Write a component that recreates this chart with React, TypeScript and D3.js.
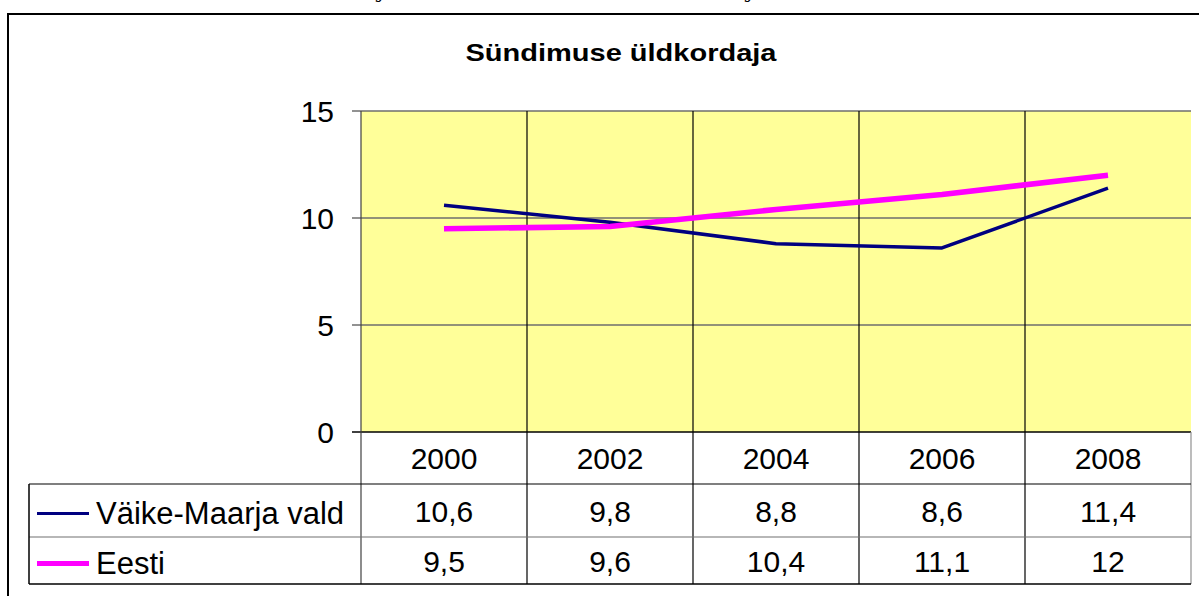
import React from "react";
import * as d3 from "d3";

const years = ["2000", "2002", "2004", "2006", "2008"];
const vaikeMaarja = [10.6, 9.8, 8.8, 8.6, 11.4];
const eesti = [9.5, 9.6, 10.4, 11.1, 12];
const yTicks = [0, 5, 10, 15];
const seriesNames = ["Väike-Maarja vald", "Eesti"];
const title = "Sündimuse üldkordaja";

const W = 1199;
const H = 596;
const FONT = "'Liberation Sans', Arial, Helvetica, sans-serif";

export default function App() {
  const plotLeft = 361;
  const plotRight = 1191;
  const plotTop = 111;
  const plotBottom = 432;
  const rowLines = [432, 484, 537, 584];
  const tableLeft = 29;

  const x = d3.scaleBand<string>().domain(years).range([plotLeft, plotRight]).padding(0);
  const y = d3.scaleLinear().domain([0, 15]).range([plotBottom, plotTop]);
  const cx = (yr: string) => (x(yr) as number) + x.bandwidth() / 2;

  const line = d3
    .line<number>()
    .x((_, i) => cx(years[i]))
    .y((d) => y(d));

  const fmt = (v: number) => String(v).replace(".", ",");
  const series = [
    { name: seriesNames[0], values: vaikeMaarja, color: "#000080", width: 3.5, keyWidth: 3 },
    { name: seriesNames[1], values: eesti, color: "#FF00FF", width: 5.5, keyWidth: 5 },
  ];

  const boundaries = years.map((yr) => x(yr) as number).concat([plotRight]);

  return (
    <svg width={W} height={H} style={{ position: "absolute", left: 0, top: 0, display: "block" }} fontFamily={FONT}>
      <rect x={0} y={0} width={W} height={H} fill="#ffffff" />
      {/* cut-off text from the page above */}
      <text x={379} y={-2} fontFamily="'DejaVu Serif', serif" fontStyle="italic" fontSize={18} fill="#000">j</text>
      <text x={748} y={-2} fontFamily="'DejaVu Serif', serif" fontStyle="italic" fontSize={18} fill="#000">j</text>

      {/* outer chart border */}
      <rect x={8} y={14} width={1300} height={700} fill="none" stroke="#000" strokeWidth={2} />

      {/* title */}
      <text x={621} y={61} textAnchor="middle" fontWeight="bold" fontSize={24} textLength={311} lengthAdjust="spacingAndGlyphs" fill="#000">
        {title}
      </text>

      {/* plot area */}
      <rect x={plotLeft} y={plotTop} width={plotRight - plotLeft} height={plotBottom - plotTop} fill="#FFFF99" />

      {/* horizontal gridlines & ticks */}
      {yTicks.map((t) => (
        <g key={t}>
          <line x1={352} x2={plotRight} y1={y(t)} y2={y(t)} stroke={t === 0 ? "#000" : "#6e6e6e"} strokeWidth={1.5} />
          <text x={334} y={y(t) + 10.5} textAnchor="end" fontSize={30} fill="#000">
            {t}
          </text>
        </g>
      ))}

      {/* vertical category lines through plot and table */}
      {boundaries.map((bx, i) => (
        <line
          key={i}
          x1={bx}
          x2={bx}
          y1={i === boundaries.length - 1 ? plotBottom : plotTop}
          y2={584}
          stroke={i === 0 ? "#404040" : i === boundaries.length - 1 ? "#909090" : "#000"}
          strokeWidth={1.2}
        />
      ))}

      {/* table */}
      <line x1={tableLeft} x2={plotRight} y1={rowLines[1]} y2={rowLines[1]} stroke="#000" strokeWidth={1.2} />
      <line x1={tableLeft} x2={plotRight} y1={rowLines[2]} y2={rowLines[2]} stroke="#707070" strokeWidth={1.2} />
      <line x1={tableLeft} x2={plotRight} y1={rowLines[3]} y2={rowLines[3]} stroke="#000" strokeWidth={1.5} />
      <line x1={tableLeft} x2={tableLeft} y1={rowLines[1]} y2={rowLines[3]} stroke="#000" strokeWidth={1.5} />

      {years.map((yr) => (
        <text key={yr} x={cx(yr)} y={(rowLines[0] + rowLines[1]) / 2 + 11} textAnchor="middle" fontSize={30} fill="#000">
          {yr}
        </text>
      ))}

      {series.map((s, si) => {
        const top = rowLines[si + 1];
        const bottom = rowLines[si + 2];
        const mid = (top + bottom) / 2;
        return (
          <g key={s.name}>
            <line x1={37} x2={89} y1={mid + 3} y2={mid + 3} stroke={s.color} strokeWidth={s.keyWidth} />
            <text x={96} y={mid + 13.5} fontSize={31} fill="#000">
              {s.name}
            </text>
            {s.values.map((v, i) => (
              <text key={i} x={cx(years[i])} y={mid + 11} textAnchor="middle" fontSize={30} fill="#000">
                {fmt(v)}
              </text>
            ))}
          </g>
        );
      })}

      {/* data lines */}
      {series.map((s) => (
        <path key={s.name} d={line(s.values) as string} fill="none" stroke={s.color} strokeWidth={s.width} strokeLinejoin="round" />
      ))}
    </svg>
  );
}
